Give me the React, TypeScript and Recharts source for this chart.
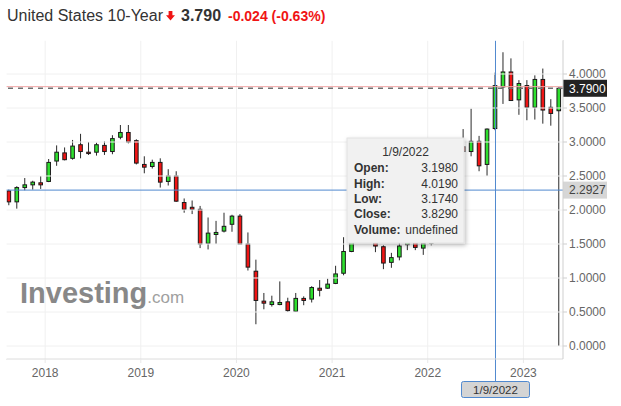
import React from "react";
import { ComposedChart, Bar, XAxis, YAxis, ReferenceLine } from "recharts";

const months = [
  "2017-08", "2017-09", "2017-10", "2017-11", "2017-12",
  "2018-01", "2018-02", "2018-03", "2018-04", "2018-05", "2018-06", "2018-07", "2018-08", "2018-09", "2018-10", "2018-11", "2018-12",
  "2019-01", "2019-02", "2019-03", "2019-04", "2019-05", "2019-06", "2019-07", "2019-08", "2019-09", "2019-10", "2019-11", "2019-12",
  "2020-01", "2020-02", "2020-03", "2020-04", "2020-05", "2020-06", "2020-07", "2020-08", "2020-09", "2020-10", "2020-11", "2020-12",
  "2021-01", "2021-02", "2021-03", "2021-04", "2021-05", "2021-06", "2021-07", "2021-08", "2021-09", "2021-10", "2021-11", "2021-12",
  "2022-01", "2022-02", "2022-03", "2022-04", "2022-05", "2022-06", "2022-07", "2022-08", "2022-09", "2022-10", "2022-11", "2022-12",
  "2023-01", "2023-02", "2023-03", "2023-04", "2023-05",
];

const opens = [
  2.28, 2.12, 2.33, 2.37, 2.40,
  2.42, 2.72, 2.84, 2.76, 2.96, 2.85, 2.85, 2.95, 2.86, 3.07, 3.14, 3.02,
  2.67, 2.64, 2.70, 2.42, 2.50, 2.11, 2.04, 2.01, 1.51, 1.64, 1.69, 1.79,
  1.91, 1.50, 1.10, 0.66, 0.61, 0.61, 0.65, 0.51, 0.70, 0.69, 0.85, 0.85,
  0.92, 1.07, 1.39, 1.74, 1.63, 1.59, 1.46, 1.23, 1.31, 1.49, 1.55, 1.44,
  1.51, 1.78, 1.83, 2.34, 2.93, 2.86, 3.01, 2.67, 3.198, 3.81, 4.03, 3.62,
  3.83, 3.51, 3.92, 3.51, 3.46,
];
const highs = [
  2.30, 2.35, 2.47, 2.43, 2.50,
  2.75, 2.95, 2.92, 3.03, 3.12, 3.00, 2.99, 3.01, 3.10, 3.25, 3.25, 3.04,
  2.79, 2.74, 2.76, 2.60, 2.57, 2.17, 2.14, 2.06, 1.89, 1.84, 1.96, 1.93,
  1.94, 1.67, 1.27, 0.78, 0.74, 0.95, 0.71, 0.78, 0.73, 0.88, 0.97, 0.99,
  1.18, 1.60, 1.78, 1.77, 1.70, 1.61, 1.48, 1.37, 1.56, 1.70, 1.69, 1.55,
  1.90, 2.06, 2.56, 2.98, 3.19, 3.49, 3.09, 3.20, 4.019, 4.32, 4.23, 3.91,
  3.91, 3.98, 4.08, 3.63, 3.80,
];
const lows = [
  2.07, 2.02, 2.29, 2.30, 2.31,
  2.41, 2.65, 2.73, 2.74, 2.76, 2.81, 2.80, 2.81, 2.82, 3.04, 2.98, 2.67,
  2.54, 2.61, 2.33, 2.36, 2.12, 1.96, 1.94, 1.44, 1.42, 1.50, 1.67, 1.68,
  1.50, 1.11, 0.32, 0.54, 0.58, 0.60, 0.50, 0.50, 0.60, 0.64, 0.73, 0.84,
  0.91, 1.04, 1.38, 1.53, 1.53, 1.38, 1.13, 1.15, 1.26, 1.41, 1.41, 1.34,
  1.48, 1.72, 1.68, 2.34, 2.71, 2.79, 2.57, 2.50, 3.174, 3.56, 3.61, 3.40,
  3.32, 3.33, 3.27, 3.24, 0.0,
];
const closes = [
  2.12, 2.33, 2.37, 2.41, 2.37,
  2.70, 2.85, 2.74, 2.94, 2.86, 2.83, 2.96, 2.86, 3.05, 3.14, 3.00, 2.69,
  2.63, 2.70, 2.41, 2.50, 2.13, 2.01, 2.01, 1.50, 1.66, 1.67, 1.76, 1.91,
  1.50, 1.16, 0.67, 0.63, 0.65, 0.64, 0.52, 0.70, 0.67, 0.86, 0.82, 0.91,
  1.06, 1.39, 1.74, 1.63, 1.59, 1.47, 1.22, 1.30, 1.47, 1.55, 1.45, 1.51,
  1.78, 1.83, 2.34, 2.93, 2.86, 3.01, 2.65, 3.19, 3.829, 4.03, 3.61, 3.86,
  3.51, 3.92, 3.47, 3.42, 3.79,
];

const yTicks = [0, 0.5, 1, 1.5, 2, 2.5, 3, 3.5, 4];
const yearLabels = ["2018", "2019", "2020", "2021", "2022", "2023"];

const currentPrice = 3.79;
const previousClose = 3.814;
const crosshairPrice = 2.2927;
const crosshairMonth = "2022-09";
const crosshairDate = "1/9/2022";
const volumeText = "undefined";

const FONT = "'Liberation Sans', Arial, Helvetica, sans-serif";
const GREEN = "#2ee02e";
const RED = "#f01414";
const BLUE = "#5089cf";
const GRID = "#f0f0f0";

const data = months.map((m, i) => ({
  i,
  m,
  open: opens[i],
  high: highs[i],
  low: lows[i],
  close: closes[i],
}));

const crossIndex = months.indexOf(crosshairMonth);
const xTicks = months
  .map((m, i) => (m.endsWith("-01") ? i - 0.5 : null))
  .filter((v) => v !== null) as number[];

const Candle = (props: any) => {
  const { x, y, width, height, payload } = props;
  if (x == null || y == null || !payload) return null;
  const top = Math.min(y, y + height);
  const bottom = Math.max(y, y + height);
  const span = payload.high - payload.low;
  const toPx = (v: number) =>
    span === 0 ? top : bottom - ((v - payload.low) / span) * (bottom - top);
  const cx = x + width / 2;
  const up = payload.close >= payload.open;
  const bTop = toPx(Math.max(payload.open, payload.close));
  const bBot = toPx(Math.min(payload.open, payload.close));
  const h = Math.max(bBot - bTop, 1);
  return (
    <g>
      <line x1={cx} x2={cx} y1={top} y2={bottom} stroke="#2a2a2a" strokeWidth={1} />
      <rect
        x={cx - 1.8}
        y={bTop}
        width={3.6}
        height={h}
        fill={up ? GREEN : RED}
        stroke="#1a1a1a"
        strokeWidth={1}
      />
    </g>
  );
};

const PriceTag = (props: any) => {
  const { viewBox, text, bg, color } = props;
  if (!viewBox) return null;
  const left = viewBox.x + viewBox.width;
  const cy = viewBox.y;
  return (
    <g>
      <rect x={left} y={cy - 8.5} width={44} height={17} fill={bg} />
      <text x={left + 6} y={cy + 4.3} fill={color} fontSize={12} fontFamily={FONT}>
        {text}
      </text>
    </g>
  );
};

const DateTag = (props: any) => {
  const { viewBox, text } = props;
  if (!viewBox) return null;
  const cx = viewBox.x;
  const bottom = viewBox.y + viewBox.height;
  return (
    <g>
      <line x1={cx} x2={cx} y1={bottom} y2={bottom + 22} stroke={BLUE} strokeWidth={1} />
      <rect x={cx - 34} y={bottom + 22.5} width={68} height={16} rx={2} fill="#d4d4d4" stroke={BLUE} strokeWidth={1} />
      <text x={cx} y={bottom + 34.5} textAnchor="middle" fill="#333" fontSize={11.5} fontFamily={FONT}>
        {text}
      </text>
    </g>
  );
};

const cp = data[crossIndex];
const tooltipRows: [string, string][] = [
  ["Open:", cp.open.toFixed(4)],
  ["High:", cp.high.toFixed(4)],
  ["Low:", cp.low.toFixed(4)],
  ["Close:", cp.close.toFixed(4)],
  ["Volume:", volumeText],
];
const rowBaselines = [172, 187.5, 203, 218, 234];

export default function App() {
  return (
    <div style={{ position: "absolute", left: 0, top: 0, width: 621, height: 406, background: "#fff" }}>
      <ComposedChart
        width={621}
        height={406}
        data={data}
        margin={{ top: 40, right: 0, bottom: 0, left: 6 }}
      >
        <XAxis
          dataKey="i"
          type="number"
          domain={[-0.414, months.length - 0.53]}
          ticks={xTicks}
          interval={0}
          tickFormatter={(v: number) => yearLabels[xTicks.indexOf(v)] ?? ""}
          height={47}
          axisLine={{ stroke: "#dcdcdc" }}
          tickLine={{ stroke: "#e8e8e8" }}
          tickSize={4}
          tickMargin={5}
          tick={{ fill: "#666", fontSize: 12, fontFamily: FONT }}
        />
        <YAxis
          orientation="right"
          type="number"
          domain={[-0.191, 4.5]}
          ticks={yTicks}
          interval={0}
          tickFormatter={(v: number) => v.toFixed(4)}
          width={58}
          axisLine={{ stroke: "#cfcfcf" }}
          tickLine={{ stroke: "#cfcfcf" }}
          tickSize={4}
          tickMargin={2}
          tick={{ fill: "#666", fontSize: 12, fontFamily: FONT }}
        />
        {yTicks.map((v) => (
          <ReferenceLine key={"gy" + v} y={v} stroke={GRID} strokeWidth={1} />
        ))}
        {xTicks.map((v) => (
          <ReferenceLine key={"gx" + v} x={v} stroke={GRID} strokeWidth={1} />
        ))}
        <ReferenceLine x={crossIndex} stroke={BLUE} strokeWidth={1} label={<DateTag text={crosshairDate} />} />
        <ReferenceLine y={crosshairPrice} stroke={BLUE} strokeWidth={1} label={<PriceTag text={crosshairPrice.toFixed(4)} bg="#d6d6d6" color="#444" />} />
        <ReferenceLine y={previousClose} stroke="#f2a6a6" strokeWidth={1} />
        <ReferenceLine
          y={currentPrice}
          stroke="#707070"
          strokeWidth={1.5}
          strokeDasharray="5 5"
          label={<PriceTag text={currentPrice.toFixed(4)} bg="#222" color="#fff" />}
        />
        <Bar
          dataKey={(d: any) => [d.low, d.high]}
          barSize={5}
          shape={<Candle />}
          isAnimationActive={false}
        />
      </ComposedChart>
      <svg
        width={621}
        height={406}
        style={{ position: "absolute", left: 0, top: 0, pointerEvents: "none" }}
      >
        <defs>
          <filter id="tipShadow" x="-10%" y="-10%" width="130%" height="130%">
            <feDropShadow dx="1.5" dy="2" stdDeviation="2" floodColor="#000" floodOpacity="0.25" />
          </filter>
        </defs>
        <rect x={4} y={38.4} width={558.5} height={2.4} fill="#fff" />
        <rect x={4} y={38.4} width={2.6} height={320.6} fill="#fff" />
        <text x={7} y={20.5} fontSize={16} fontFamily={FONT} fill="#333">
          United States 10-Year
        </text>
        <path d="M168.6 11 H172.4 V15.3 H175 L170.5 20.5 L166 15.3 H168.6 Z" fill={RED} />
        <text x={181} y={20.5} fontSize={16} fontWeight="bold" fontFamily={FONT} fill="#333">
          {currentPrice.toFixed(3)}
        </text>
        <text x={228} y={20.5} fontSize={14} fontWeight="bold" fontFamily={FONT} fill={RED}>
          {(currentPrice - previousClose).toFixed(3)} ({(((currentPrice - previousClose) / previousClose) * 100).toFixed(2)}%)
        </text>
        <text x={20} y={303} fontFamily={FONT}>
          <tspan fontSize={29} fontWeight="bold" fill="#888">Investing</tspan>
          <tspan fontSize={17} fill="#a0a0a0">.com</tspan>
        </text>
        <rect x={347} y={138} width={117} height={105} fill="#f1f1f1" stroke="#e2e2e2" strokeWidth={1} filter="url(#tipShadow)" />
        <text x={405.5} y={156} textAnchor="middle" fontSize={12} fontFamily={FONT} fill="#333">
          {crosshairDate}
        </text>
        {tooltipRows.map(([label, value], k) => (
          <g key={label}>
            <text x={354} y={rowBaselines[k]} fontSize={12} fontWeight="bold" fontFamily={FONT} fill="#333">
              {label}
            </text>
            <text x={458} y={rowBaselines[k]} textAnchor="end" fontSize={12} fontFamily={FONT} fill="#333">
              {value}
            </text>
          </g>
        ))}
      </svg>
    </div>
  );
}
